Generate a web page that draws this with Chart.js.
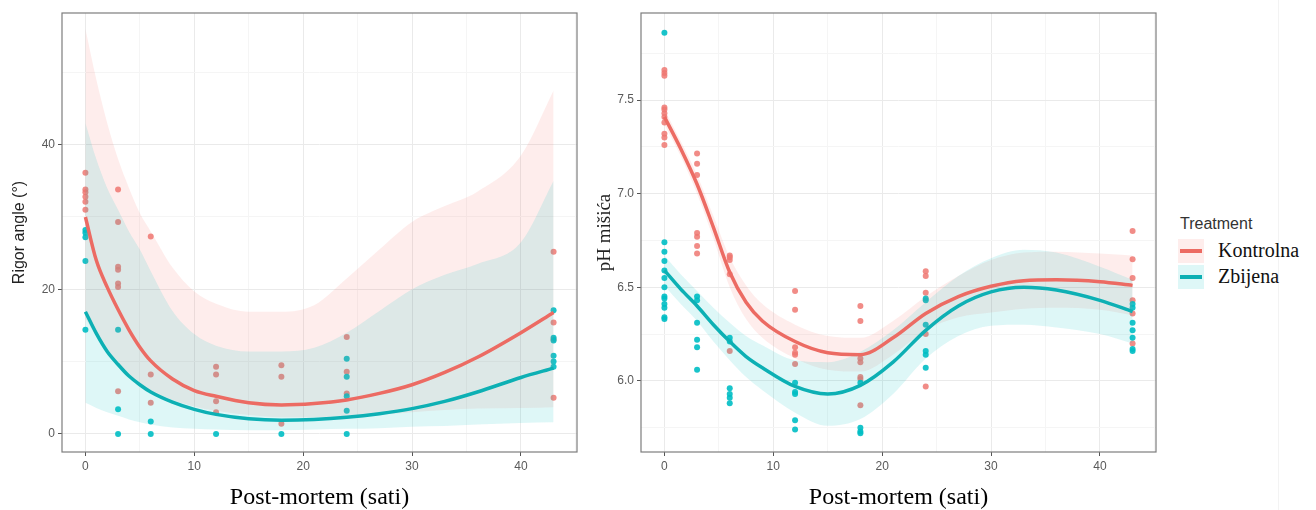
<!DOCTYPE html>
<html>
<head>
<meta charset="utf-8">
<script src="https://cdn.jsdelivr.net/npm/chart.js@4.4.1/dist/chart.umd.min.js"></script>
<style>
    html, body { margin: 0; padding: 0; background: #fff; }
    body { width: 1316px; height: 510px; position: relative; overflow: hidden; }
    .panel { position: absolute; top: 0; height: 510px; }
    #left-panel { left: 0; width: 590px; }
    #right-panel { left: 590px; width: 580px; }
    .lg-title { position: absolute; left: 1180px; top: 215px; font: 16px "Liberation Sans", Arial, sans-serif; line-height: 18px; color: #333; }
    .lg-key { position: absolute; left: 1178px; width: 26px; height: 24px; }
    .lg-key span { position: absolute; left: 2px; right: 2px; top: 10px; height: 3.5px; }
    .lg-text { position: absolute; left: 1218px; font: 20px "Liberation Serif", "Times New Roman", serif; line-height: 24px; color: #111; }
    .edge { position: absolute; left: 1278px; top: 0; width: 1px; height: 510px; background: #f3f3f3; }
</style>
</head>
<body>
<div class="panel" id="left-panel"><canvas id="rigorChart"></canvas></div>
<div class="panel" id="right-panel"><canvas id="phChart"></canvas></div>
<div class="edge"></div>

<div class="lg-title">Treatment</div>
<div class="lg-key" style="top:239px; background: rgba(248,118,109,0.13)"><span style="background:#EC6B63"></span></div>
<div class="lg-text" style="top:238px">Kontrolna</div>
<div class="lg-key" style="top:265px; background: rgba(0,191,196,0.13)"><span style="background:#0DB0B4"></span></div>
<div class="lg-text" style="top:264px">Zbijena</div>

<script>
// sampling times (h post-mortem)
const hours = [0, 3, 6, 12, 18, 24, 43];

// rigor angle, one inner array per sampling time
const rigorKontrolna = [
    [36.1, 33.8, 33.4, 32.8, 32.1, 31.0],
    [33.8, 29.3, 23.1, 22.7, 20.8, 20.3, 5.9],
    [27.3, 8.2, 4.3],
    [9.3, 8.2, 4.5, 3.0],
    [9.5, 7.9, 1.4],
    [13.4, 8.6, 5.6],
    [25.2, 15.4, 13.1, 5.0]
];
const rigorZbijena = [
    [28.2, 27.8, 27.2, 23.9, 14.4],
    [14.4, 3.4, 0],
    [1.7, 0],
    [0],
    [0],
    [10.4, 7.9, 5.2, 3.2, 0],
    [17.1, 13.3, 12.9, 10.8, 10.0, 9.3]
];

// pH, one inner array per sampling time
const phKontrolna = [
    [7.66, 7.645, 7.63, 7.46, 7.45, 7.43, 7.41, 7.38, 7.32, 7.30, 7.26],
    [7.215, 7.16, 7.10, 6.79, 6.77, 6.72, 6.68],
    [6.67, 6.66, 6.645, 6.57, 6.16],
    [6.48, 6.38, 6.18, 6.15, 6.14, 6.09],
    [6.40, 6.32, 6.12, 6.10, 6.02, 6.01, 5.87],
    [6.585, 6.56, 6.47, 6.25, 5.97],
    [6.80, 6.65, 6.55, 6.43, 6.36, 6.20]
];
const phZbijena = [
    [7.86, 6.74, 6.69, 6.64, 6.59, 6.55, 6.50, 6.45, 6.44, 6.41, 6.39, 6.34, 6.33],
    [6.45, 6.43, 6.31, 6.22, 6.18, 6.06],
    [6.23, 6.21, 5.96, 5.93, 5.91, 5.88],
    [5.99, 5.94, 5.93, 5.79, 5.74],
    [5.99, 5.75, 5.73, 5.72],
    [6.44, 6.43, 6.30, 6.16, 6.14, 6.07],
    [6.41, 6.39, 6.31, 6.27, 6.23, 6.17, 6.16]
];

// smoothed fits + confidence bands
const rigorFitX = [0, 1, 2, 3, 4, 5, 6, 8, 10, 12, 15, 18, 21, 24, 27, 30, 33, 36, 40, 43];
const rigorKontrolnaFit = [30.0, 24.0, 20.3, 17.2, 14.4, 12.0, 10.1, 7.6, 6.0, 5.2, 4.3, 4.0, 4.2, 4.7, 5.6, 6.8, 8.5, 10.6, 14.0, 16.8];
const rigorKontrolnaHi = [56, 49, 43, 38, 34, 30.5, 28, 23, 19.7, 18, 16.9, 16.9, 17.8, 21.5, 25.5, 29.3, 31.5, 33.5, 38.5, 47.5];
const rigorKontrolnaLo = [16, 13.5, 11.5, 9.8, 8.3, 7.0, 6.0, 4.7, 3.8, 3.2, 2.6, 2.3, 2.3, 2.5, 2.7, 3.0, 3.3, 3.5, 3.6, 3.7];
const rigorZbijenaFit = [16.9, 13.9, 11.4, 9.6, 8.0, 6.8, 5.8, 4.4, 3.4, 2.7, 2.1, 1.9, 2.0, 2.3, 2.8, 3.5, 4.5, 5.8, 7.8, 9.1];
const rigorZbijenaHi = [43, 38, 34, 31, 28, 25.5, 22.5, 17, 13.8, 12.2, 11.4, 11.4, 11.9, 14, 17, 20, 22, 23.5, 26.5, 35];
const rigorZbijenaLo = [4.3, 3.6, 3.0, 2.5, 2.0, 1.6, 1.3, 0.9, 0.7, 0.6, 0.5, 0.5, 0.6, 0.7, 0.8, 1.0, 1.1, 1.3, 1.5, 1.6];

const phFitX = [0, 1.5, 3, 4.5, 6, 7.5, 9, 12, 15, 18, 21, 24, 27, 30, 33, 36, 40, 43];
const phKontrolnaFit = [7.41, 7.24, 7.05, 6.82, 6.58, 6.42, 6.32, 6.21, 6.15, 6.14, 6.23, 6.36, 6.45, 6.505, 6.535, 6.54, 6.53, 6.51];
const phKontrolnaHi = [7.45, 7.28, 7.10, 6.88, 6.66, 6.51, 6.41, 6.30, 6.24, 6.23, 6.32, 6.45, 6.56, 6.645, 6.685, 6.69, 6.68, 6.67];
const phKontrolnaLo = [7.37, 7.20, 7.00, 6.76, 6.50, 6.33, 6.23, 6.12, 6.06, 6.05, 6.14, 6.27, 6.34, 6.365, 6.385, 6.39, 6.38, 6.35];
const phZbijenaFit = [6.59, 6.49, 6.40, 6.30, 6.21, 6.13, 6.07, 5.97, 5.93, 5.976, 6.10, 6.27, 6.40, 6.475, 6.50, 6.485, 6.43, 6.37];
const phZbijenaHi = [6.67, 6.57, 6.48, 6.39, 6.31, 6.24, 6.19, 6.11, 6.10, 6.156, 6.27, 6.42, 6.56, 6.655, 6.70, 6.685, 6.61, 6.54];
const phZbijenaLo = [6.51, 6.41, 6.32, 6.21, 6.11, 6.02, 5.95, 5.83, 5.76, 5.796, 5.93, 6.12, 6.24, 6.295, 6.30, 6.285, 6.25, 6.20];

// axis breaks
const xMajor = [0, 10, 20, 30, 40];
const xMinor = [5, 15, 25, 35, 45];
const rigorMajor = [0, 20, 40];
const rigorMinor = [10, 30, 50];
const phMajor = [6.0, 6.5, 7.0, 7.5];
const phMinor = [5.75, 6.25, 6.75, 7.25, 7.75];

const RED = '#EC6B63';
const TEAL = '#0DB0B4';
const RED_PT = 'rgba(238,120,114,0.85)';
const TEAL_PT = 'rgba(0,190,196,0.9)';
const RED_BAND = 'rgba(248,118,109,0.13)';
const TEAL_BAND = 'rgba(0,191,196,0.13)';

function pointsFrom(values) {
    return hours.flatMap((h, i) => values[i].map(v => ({ x: h, y: v })));
}

function curve(xs, ys) {
    return xs.map((x, i) => ({ x: x, y: ys[i] }));
}

function isIn(list, v) {
    return list.some(m => Math.abs(m - v) < 1e-6);
}

// panel frame like theme_bw
const panelBorder = {
    id: 'panelBorder',
    afterDatasetsDraw(chart) {
        const { ctx, chartArea: a } = chart;
        ctx.save();
        ctx.strokeStyle = '#7d7d7d';
        ctx.lineWidth = 1.2;
        ctx.strokeRect(a.left, a.top, a.right - a.left, a.bottom - a.top);
        ctx.restore();
    }
};

function axisOpts(major, minor, fmt) {
    return {
        afterBuildTicks: scale => {
            scale.ticks = major.concat(minor).sort((a, b) => a - b).map(v => ({ value: v }));
        },
        ticks: {
            autoSkip: false,
            maxRotation: 0,
            padding: 3,
            color: '#5a5a5a',
            font: { family: 'Liberation Sans, Arial, sans-serif', size: 12 },
            callback: v => isIn(major, v) ? fmt(v) : ''
        },
        grid: {
            color: ctx => isIn(major, ctx.tick.value) ? '#EAEAEA' : '#F5F5F5',
            lineWidth: 1,
            drawTicks: true,
            tickLength: 4,
            tickColor: ctx => isIn(major, ctx.tick.value) ? '#555' : 'rgba(0,0,0,0)'
        },
        border: { display: false }
    };
}

function buildPanel(canvasId, s) {
    const lineDs = (data, color) => ({
        data: data, borderColor: color, borderWidth: 3.5, pointRadius: 0,
        fill: false, cubicInterpolationMode: 'monotone'
    });
    const bandDs = (data, fill, bg) => ({
        data: data, borderWidth: 0, borderColor: 'rgba(0,0,0,0)', pointRadius: 0,
        fill: fill, backgroundColor: bg, cubicInterpolationMode: 'monotone'
    });
    const pointDs = (data, color) => ({
        data: data, showLine: false, pointRadius: 3, pointBorderWidth: 0,
        pointBackgroundColor: color, borderColor: color
    });

    const xAxis = axisOpts(xMajor, xMinor, v => String(v));
    xAxis.type = 'linear';
    xAxis.min = -2.15;
    xAxis.max = 45.15;
    xAxis.afterFit = scale => { scale.height = 58; };
    xAxis.title = {
        display: true,
        text: 'Post-mortem (sati)',
        color: '#000',
        font: { family: 'Liberation Serif, Times New Roman, serif', size: 24, lineHeight: 1 },
        padding: { top: 0, bottom: 0 }
    };

    const yAxis = axisOpts(s.yMajor, s.yMinor, s.yFmt);
    yAxis.min = s.yMin;
    yAxis.max = s.yMax;
    yAxis.afterFit = scale => { scale.width = s.yWidth; };
    yAxis.title = {
        display: true,
        text: s.yTitle,
        color: '#222',
        font: s.yFont,
        padding: { top: s.yTitlePad, bottom: 0 }
    };

    return new Chart(document.getElementById(canvasId), {
        type: 'line',
        data: {
            datasets: [
                lineDs(curve(s.fitX, s.zbFit), TEAL),
                lineDs(curve(s.fitX, s.koFit), RED),
                bandDs(curve(s.fitX, s.zbHi), '+1', TEAL_BAND),
                bandDs(curve(s.fitX, s.zbLo), false, TEAL_BAND),
                bandDs(curve(s.fitX, s.koHi), '+1', RED_BAND),
                bandDs(curve(s.fitX, s.koLo), false, RED_BAND),
                pointDs(pointsFrom(s.zbPts), TEAL_PT),
                pointDs(pointsFrom(s.koPts), RED_PT)
            ]
        },
        options: {
            responsive: true,
            maintainAspectRatio: false,
            animation: false,
            layout: { padding: { top: 13, right: s.padRight, left: 0, bottom: 0 } },
            plugins: { legend: { display: false }, tooltip: { enabled: false } },
            scales: { x: xAxis, y: yAxis }
        },
        plugins: [panelBorder]
    });
}

buildPanel('rigorChart', {
    fitX: rigorFitX,
    koFit: rigorKontrolnaFit, koHi: rigorKontrolnaHi, koLo: rigorKontrolnaLo,
    zbFit: rigorZbijenaFit, zbHi: rigorZbijenaHi, zbLo: rigorZbijenaLo,
    koPts: rigorKontrolna, zbPts: rigorZbijena,
    yMajor: rigorMajor, yMinor: rigorMinor, yFmt: v => String(v),
    yMin: -2.5, yMax: 58.2,
    yWidth: 62, padRight: 13,
    yTitle: 'Rigor angle (°)',
    yFont: { family: 'Liberation Sans, Arial, sans-serif', size: 16 },
    yTitlePad: 10
});

buildPanel('phChart', {
    fitX: phFitX,
    koFit: phKontrolnaFit, koHi: phKontrolnaHi, koLo: phKontrolnaLo,
    zbFit: phZbijenaFit, zbHi: phZbijenaHi, zbLo: phZbijenaLo,
    koPts: phKontrolna, zbPts: phZbijena,
    yMajor: phMajor, yMinor: phMinor, yFmt: v => v.toFixed(1),
    yMin: 5.62, yMax: 7.965,
    yWidth: 51, padRight: 14,
    yTitle: 'pH mišića',
    yFont: { family: 'Liberation Serif, Times New Roman, serif', size: 19 },
    yTitlePad: 4
});
</script>
</body>
</html>
